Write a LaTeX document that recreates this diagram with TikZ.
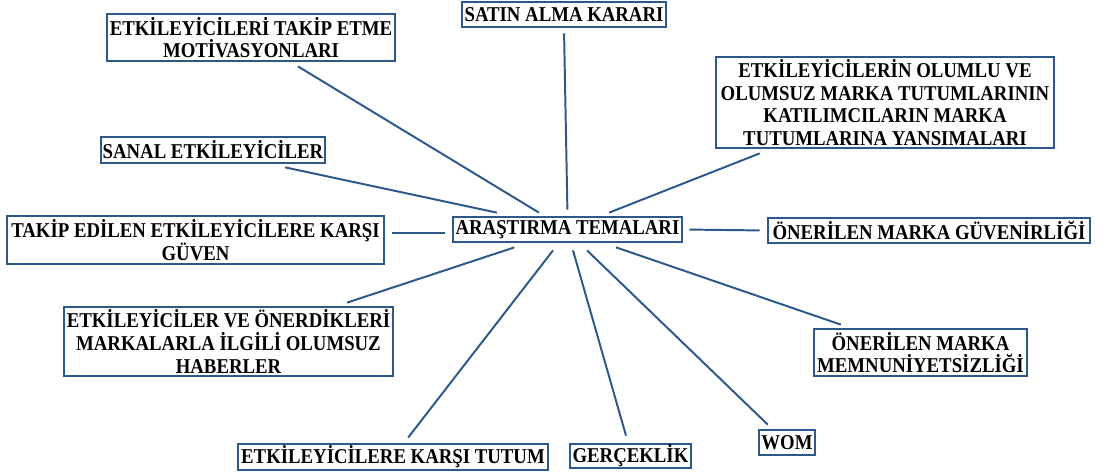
\documentclass[tikz,border=0pt]{standalone}
\usepackage{fontspec}
\setmainfont{Liberation Serif}[FakeStretch=0.89]
\usetikzlibrary{calc}
\definecolor{themeBlue}{RGB}{44,88,140}

\begin{document}
\begin{tikzpicture}
[x=0.025cm,y=-0.025cm,
  lineDecorate/.style={-,line width=1.4pt,draw=themeBlue},%
  nodeDecorate/.style={shape=rectangle,draw=themeBlue,line width=2pt,inner sep=0pt,align=center,%
    font=\bfseries\fontsize{15}{16.1}\selectfont}]
\useasboundingbox (0,0) rectangle (1101,475);
%% nodes or boxes
\foreach \nodename/\x/\y/\w/\h/\txt in {
  ar/567.5/229.5/229/25/{ARAŞTIRMA TEMALARI},
  mot/251/37.5/288/47/{ETKİLEYİCİLERİ TAKİP ETME\\MOTİVASYONLARI},
  sanal/213/150/224/26/{SANAL ETKİLEYİCİLER},
  guven/195.5/240/377/48/{TAKİP EDİLEN ETKİLEYİCİLERE KARŞI\\GÜVEN},
  satin/564/14.5/204/25/{SATIN ALMA KARARI},
  olumlu/885/102.5/338/91/{ETKİLEYİCİLERİN OLUMLU VE\\OLUMSUZ MARKA TUTUMLARININ\\KATILIMCILARIN MARKA\\TUTUMLARINA YANSIMALARI},
  onguven/929/230.5/322/25/{ÖNERİLEN MARKA GÜVENİRLİĞİ},
  haber/228.5/341.5/329/69/{ETKİLEYİCİLER VE ÖNERDİKLERİ\\MARKALARLA İLGİLİ OLUMSUZ\\HABERLER},
  memnun/920.5/352.5/213/47/{ÖNERİLEN MARKA\\MEMNUNİYETSİZLİĞİ},
  tutum/393/457/310/26/{ETKİLEYİCİLERE KARŞI TUTUM},
  gercek/630.5/456/121/24/{GERÇEKLİK},
  wom/787/442.5/56/25/{WOM}}
{
  \node (\nodename) at (\x,\y) [nodeDecorate,minimum width=\w*0.025cm,minimum height=\h*0.025cm] {\txt};
}
%% edges or lines
\path
($(ar.north west)!.398!(ar.north east)$) edge[lineDecorate,shorten <=0.145cm,shorten >=0.19cm] ($(mot.south west)!.639!(mot.south east)$)
($(ar.north west)!.255!(ar.north east)$) edge[lineDecorate,shorten <=0.355cm,shorten >=0.355cm] ($(sanal.south west)!.757!(sanal.south east)$)
($(ar.west)+(0,3.5)$) edge[lineDecorate,shorten <=0.175cm,shorten >=0.175cm] ($(ar.west -| guven.east)+(0,3.5)$)
(ar.north) edge[lineDecorate,shorten <=0.15cm,shorten >=0.125cm] (satin.south)
($(ar.north west)!.647!(ar.north east)$) edge[lineDecorate,shorten <=0.2cm,shorten >=0.27cm] ($(olumlu.south west)!.162!(olumlu.south east)$)
(ar.east) edge[lineDecorate,shorten <=0.15cm,shorten >=0.175cm] (onguven.west)
($(ar.south west)!.323!(ar.south east)$) edge[lineDecorate,shorten <=0.32cm,shorten >=0.24cm] ($(haber.north west)!.83!(haber.north east)$)
($(ar.south west)!.461!(ar.south east)$) edge[lineDecorate,shorten <=0.22cm,shorten >=0.16cm] ($(tutum.north west)!.536!(tutum.north east)$)
($(ar.south west)!.515!(ar.south east)$) edge[lineDecorate,shorten <=0.18cm,shorten >=0.18cm] ($(gercek.north west)!.48!(gercek.north east)$)
($(ar.south west)!.553!(ar.south east)$) edge[lineDecorate,shorten <=0.25cm,shorten >=0.145cm] ($(wom.north west)!.243!(wom.north east)$)
($(ar.south west)!.66!(ar.south east)$) edge[lineDecorate,shorten <=0.3cm,shorten >=0.23cm] ($(memnun.north west)!.171!(memnun.north east)$);
\end{tikzpicture}
\end{document}
